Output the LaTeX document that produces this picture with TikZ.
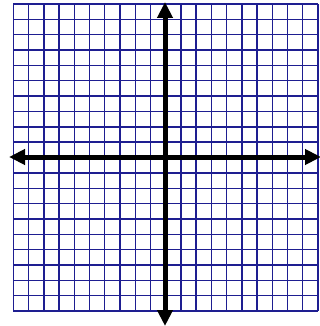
\documentclass[tikz,border=0pt]{standalone}
\usetikzlibrary{arrows.meta}
\definecolor{gridblue}{RGB}{30,30,145}
\begin{document}
\begin{tikzpicture}[x=1pt,y=-1pt,
  gridline/.style={draw=gridblue,line width=1.4pt},
  axis/.style={draw=black,line width=5pt,-{Triangle[length=16pt,width=15pt]}}]
\fill[white] (0,0) rectangle (320,326);
\useasboundingbox (0,0) rectangle (320,326);
\foreach \i in {0,...,20} {
  \pgfmathsetmacro{\gx}{13.4+\i*15.23}
  \pgfmathsetmacro{\gy}{4+\i*15.35}
  \draw[gridline] (\gx,4) -- (\gx,311);
  \draw[gridline] (13.4,\gy) -- (318,\gy);
}
\coordinate (c) at (165,157);
\coordinate (l) at (9,157);
\coordinate (r) at (321,157);
\coordinate (t) at (165,2);
\coordinate (b) at (165,326);
\draw[axis] (c) -- (l);
\draw[axis] (c) -- (r);
\draw[axis] (c) -- (t);
\draw[axis] (c) -- (b);
\end{tikzpicture}
\end{document}
